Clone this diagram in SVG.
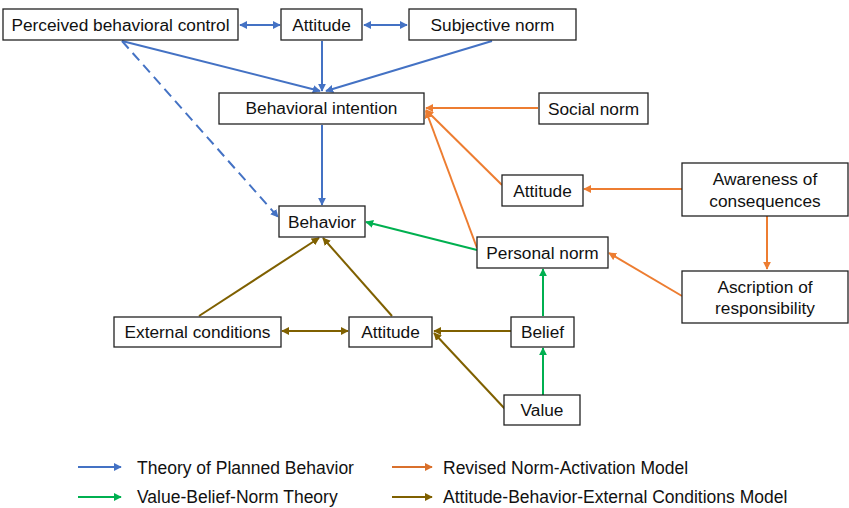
<svg xmlns="http://www.w3.org/2000/svg" width="849" height="508" viewBox="0 0 849 508">
<style>
.box{fill:#fff;stroke:#222;stroke-width:1.3}
text{font-family:"Liberation Sans","Open Sans",Arial,sans-serif;font-size:17.3px;fill:#111;text-anchor:middle;dominant-baseline:central}
.leg{font-size:17.5px;text-anchor:start}
.b{stroke:#4472C4;stroke-width:2;fill:none}
.o{stroke:#ED7D31;stroke-width:2;fill:none}
.g{stroke:#00B050;stroke-width:2;fill:none}
.k{stroke:#7F6000;stroke-width:2;fill:none}
</style>
<defs>
<marker id="ab" viewBox="0 0 10 10" refX="9" refY="5" markerWidth="4" markerHeight="4" orient="auto-start-reverse"><path d="M0,0L10,5L0,10z" fill="#4472C4"/></marker>
<marker id="ao" viewBox="0 0 10 10" refX="9" refY="5" markerWidth="4" markerHeight="4" orient="auto-start-reverse"><path d="M0,0L10,5L0,10z" fill="#ED7D31"/></marker>
<marker id="ag" viewBox="0 0 10 10" refX="9" refY="5" markerWidth="4" markerHeight="4" orient="auto-start-reverse"><path d="M0,0L10,5L0,10z" fill="#00B050"/></marker>
<marker id="ak" viewBox="0 0 10 10" refX="9" refY="5" markerWidth="4" markerHeight="4" orient="auto-start-reverse"><path d="M0,0L10,5L0,10z" fill="#7F6000"/></marker>
<marker id="ar" viewBox="0 0 10 10" refX="9" refY="5" markerWidth="4" markerHeight="4" orient="auto-start-reverse"><path d="M0,0L10,5L0,10z" fill="#D9702C"/></marker>
</defs>
<rect width="849" height="508" fill="#fff"/>
<g id="connectors">
<line class="b" x1="240" y1="25" x2="280" y2="25" marker-start="url(#ab)" marker-end="url(#ab)"/>
<line class="b" x1="364" y1="25" x2="407" y2="25" marker-start="url(#ab)" marker-end="url(#ab)"/>
<line class="b" x1="122" y1="41" x2="320" y2="91" marker-end="url(#ab)"/>
<line class="b" x1="322" y1="41" x2="322" y2="91" marker-end="url(#ab)"/>
<line class="b" x1="492" y1="41" x2="326" y2="91" marker-end="url(#ab)"/>
<line class="b" x1="122" y1="41" x2="278" y2="217" stroke-dasharray="10,6" marker-end="url(#ab)"/>
<line class="b" x1="322" y1="125" x2="322" y2="205" marker-end="url(#ab)"/>
<line class="o" x1="538" y1="108" x2="426" y2="108" marker-end="url(#ao)"/>
<line class="o" x1="502" y1="185" x2="426" y2="110" marker-end="url(#ao)"/>
<line class="o" x1="477" y1="248" x2="426" y2="111" marker-end="url(#ao)"/>
<line class="o" x1="682" y1="189" x2="584" y2="189" marker-end="url(#ao)"/>
<line class="o" x1="767" y1="216" x2="767" y2="269" marker-end="url(#ao)"/>
<line class="o" x1="682" y1="296" x2="609" y2="253" marker-end="url(#ao)"/>
<line class="g" x1="477" y1="250" x2="366" y2="222" marker-end="url(#ag)"/>
<line class="g" x1="543" y1="316" x2="543" y2="269" marker-end="url(#ag)"/>
<line class="g" x1="543" y1="395" x2="543" y2="348" marker-end="url(#ag)"/>
<line class="k" x1="199" y1="316" x2="319" y2="238" marker-end="url(#ak)"/>
<line class="k" x1="392" y1="316" x2="323" y2="238" marker-end="url(#ak)"/>
<line class="k" x1="282" y1="331" x2="348" y2="331" marker-start="url(#ak)" marker-end="url(#ak)"/>
<line class="k" x1="511" y1="331" x2="434" y2="331" marker-end="url(#ak)"/>
<line class="k" x1="505" y1="409" x2="434" y2="333" marker-end="url(#ak)"/>
</g>
<g id="pbc"><rect class="box" x="3" y="9" width="235" height="31"/><text x="120.5" y="25">Perceived behavioral control</text></g>
<g id="attitude-top"><rect class="box" x="281" y="9" width="81" height="31"/><text x="321.5" y="25">Attitude</text></g>
<g id="subjective-norm"><rect class="box" x="409" y="9" width="167" height="31"/><text x="492.5" y="25">Subjective norm</text></g>
<g id="behavioral-intention"><rect class="box" x="219" y="93" width="205" height="31"/><text x="321.5" y="108">Behavioral intention</text></g>
<g id="social-norm"><rect class="box" x="539" y="93" width="109" height="31"/><text x="593.5" y="109">Social norm</text></g>
<g id="attitude-right"><rect class="box" x="502" y="175" width="81" height="31"/><text x="542.5" y="191">Attitude</text></g>
<g id="awareness"><rect class="box" x="682" y="163" width="166" height="53"/><text x="765" y="179">Awareness of</text><text x="765" y="201">consequences</text></g>
<g id="behavior"><rect class="box" x="279" y="206" width="86" height="31"/><text x="322" y="222">Behavior</text></g>
<g id="personal-norm"><rect class="box" x="477" y="237" width="131" height="31"/><text x="542.5" y="253">Personal norm</text></g>
<g id="ascription"><rect class="box" x="682" y="271" width="166" height="52"/><text x="765" y="287">Ascription of</text><text x="765" y="308">responsibility</text></g>
<g id="external-conditions"><rect class="box" x="114" y="317" width="167" height="30"/><text x="197.5" y="332">External conditions</text></g>
<g id="attitude-bottom"><rect class="box" x="349" y="317" width="83" height="30"/><text x="390.5" y="332">Attitude</text></g>
<g id="belief"><rect class="box" x="511" y="317" width="63" height="30"/><text x="542.5" y="332">Belief</text></g>
<g id="value"><rect class="box" x="504" y="395" width="76" height="30"/><text x="542" y="410">Value</text></g>
<g id="legend">
<line class="b" x1="78" y1="467" x2="121" y2="467" marker-end="url(#ab)"/>
<text class="leg" x="137" y="468">Theory of Planned Behavior</text>
<line class="g" x1="78" y1="497" x2="121" y2="497" marker-end="url(#ag)"/>
<text class="leg" x="137" y="497">Value-Belief-Norm Theory</text>
<line x1="392" y1="467" x2="432" y2="467" stroke="#D9702C" stroke-width="2" marker-end="url(#ar)"/>
<text class="leg" x="443" y="468">Revised Norm-Activation Model</text>
<line class="k" x1="392" y1="497" x2="432" y2="497" marker-end="url(#ak)"/>
<text class="leg" x="443" y="497">Attitude-Behavior-External Conditions Model</text>
</g>
</svg>
